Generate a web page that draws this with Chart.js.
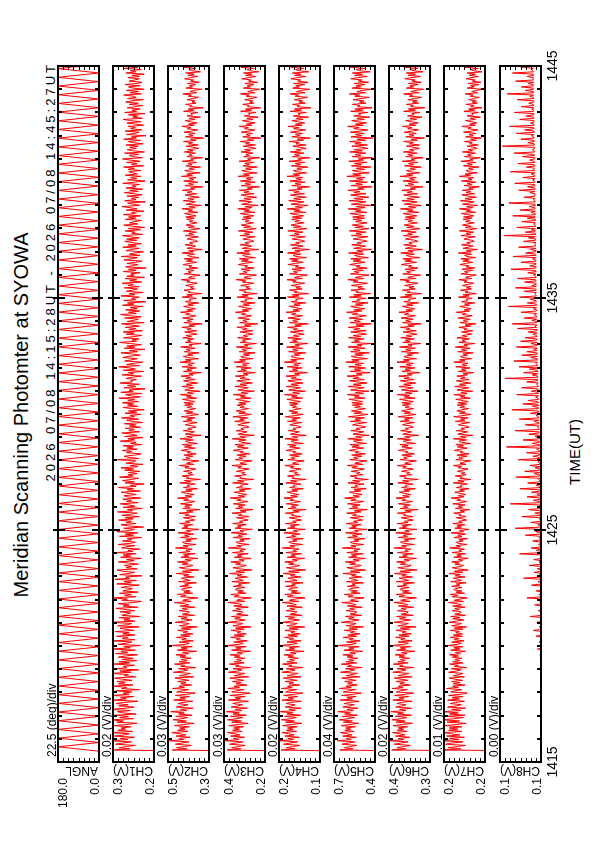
<!DOCTYPE html>
<html lang="en">
  <head>
    <meta charset="UTF-8" />
    <title>Meridian Scanning Photomter at SYOWA</title>
    <script src="https://cdn.jsdelivr.net/npm/chart.js"></script>
    <style>
      html, body { margin: 0; background: #fff; overflow: hidden; }
      /* the plot is laid out in landscape, then turned to stand on the portrait page */
      #page {
        position: absolute; left: 0; top: 0;
        width: 842px; height: 595px;
        transform-origin: 0 0;
        transform: translate(0, 842px) rotate(-90deg);
        font-family: "Liberation Sans", Arial, sans-serif;
        color: #000;
      }
      #page canvas { position: absolute; left: 0; }
      .txt { position: absolute; white-space: nowrap; }
      #title { left: 427px; top: 11px; font-size: 20px; line-height: 20px; transform: translateX(-50%); }
      #period { right: 62px; top: 44px; font-size: 13px; line-height: 14px; letter-spacing: 3px; }
      #xtitle { left: 390px; top: 567px; font-size: 15px; line-height: 16px; transform: translateX(-50%); }
    </style>
  </head>
  <body>
    <div id="page">
      <div class="txt" id="title">Meridian Scanning Photomter at SYOWA</div>
      <div class="txt" id="period">2026 07/08 14:15:28UT - 2026 07/08 14:45:27UT</div>
      <div class="txt" id="xtitle">TIME(UT)</div>
    </div>

    <script>
      // time in minutes after 14:15
      const sampleStart = 28 / 60; // 14:15:28
      const sampleEnd = 30 + 27 / 60; // 14:45:27
      const timeTicks = [1415, 1425, 1435, 1445];

      const channelNames = ["ANGL", "CH1(V)", "CH2(V)", "CH3(V)", "CH4(V)", "CH5(V)", "CH6(V)", "CH7(V)", "CH8(V)"];
      const axisMax = [180, 0.33, 0.54, 0.44, 0.24, 0.72, 0.44, 0.24, 0.1315];
      const axisMin = [0, 0.2, 0.3, 0.2, 0.1, 0.4, 0.3, 0.16, 0.1015];

      // scan angle (deg), turning points of the meridian scan
      const angle = [
        0,180,0,180,0,180,0,180,0,180,0,180,0,180,0,180,0,180,0,180,
        0,180,0,180,0,180,0,180,0,180,0,180,0,180,0,180,0,180,0,180,
        0,180,0,180,0,180,0,180,0,180,0,180,0,180,0,180,0,180,0,180,
        0,180,0,180,0,180,0,180,0,180,0,180,0,180,0,180,0,180,0,180,
        0,180,0,180,0,180,0,180,0,180,0,180,0,180,0,180,0,180,0,180,
        0,180,0,180,0,180,0,180,0,180,0,180,0,180,0,180,0,180,0,180,
        0,180,0,180,0,180,0,180,0,180,0,180,0,180,0,180,0,180,0,180,
        0,180,0,180,0,180,0,180,0,180,0,180,0,180,0,180,0,180,0,180,
        0,
      ];

      // photometer channels, mV, one row per minute
      const ch1 = [
        0,334,276,311,288,259,322,300,271,345,283,307,262,326,294,279,338,268,315,290,
        305,273,329,286,254,318,297,340,265,309,281,324,257,299,316,275,343,289,263,312,
        282,320,296,251,327,288,306,264,336,279,298,271,321,246,303,287,331,267,313,292,
        317,270,300,325,258,294,281,339,273,308,249,319,286,297,262,328,277,311,255,302,
        266,313,291,252,322,284,305,259,333,275,296,243,314,289,270,328,261,300,283,319,
        260,299,278,324,263,290,308,248,315,280,271,337,261,295,276,311,244,302,288,274,
        307,261,289,321,252,298,279,313,266,240,302,285,331,257,293,272,310,250,299,281,
        268,305,284,247,318,272,295,256,324,277,290,238,309,283,261,300,317,253,289,271,
        294,250,281,313,263,287,240,306,274,298,257,321,267,283,245,303,288,260,314,275,
        259,300,271,285,239,309,265,291,251,318,278,262,296,233,282,305,257,288,272,312,
        266,291,246,302,274,254,315,268,284,237,298,260,279,307,250,287,271,299,242,285,
        295,256,277,304,243,285,265,313,257,275,231,292,262,300,272,249,309,267,283,254,
        281,245,293,264,305,252,276,236,289,267,258,316,248,279,295,260,241,287,270,301,
        253,286,266,298,239,274,257,307,261,283,235,293,254,272,302,246,280,263,291,243,
        278,258,294,236,269,287,249,303,262,276,241,292,255,281,231,271,298,252,284,264,
        300,249,283,261,311,243,272,290,238,305,266,279,228,295,257,284,247,308,269,274,
        256,289,270,240,301,265,281,233,297,259,276,312,246,287,262,236,293,271,253,299,
        283,244,268,305,252,279,229,294,261,286,240,274,309,255,270,248,297,264,239,288,
        262,298,237,280,258,291,247,272,303,231,285,266,250,293,241,277,306,256,281,245,
        290,254,275,236,300,263,284,226,296,258,271,247,305,261,279,234,288,268,252,294,
        248,283,266,301,239,277,255,292,230,286,263,274,244,298,257,281,225,290,269,251,
        286,259,238,295,270,253,304,245,278,262,233,289,274,248,299,256,283,240,272,293,
        255,287,247,276,300,236,271,260,292,243,282,229,266,296,251,278,262,239,290,258,
        281,242,297,259,271,232,288,254,276,302,245,265,284,227,293,257,272,249,286,238,
        263,294,250,277,236,289,258,270,246,299,261,228,284,255,275,242,291,253,269,280,
        241,282,262,296,233,271,254,287,244,275,300,237,266,279,249,293,230,268,285,256,
        277,250,289,235,265,282,243,296,256,272,226,287,261,248,291,239,274,259,283,233,
        259,286,241,274,298,237,268,252,281,228,293,255,270,244,285,262,236,278,250,290,
        272,234,284,257,265,296,240,276,249,288,231,267,281,245,292,253,238,279,261,247,
        283,246,270,231,289,258,275,240,294,252,266,225,280,260,243,287,255,271,236,268,
      ];
      const ch2 = [
        0,515,428,490,443,404,497,461,418,531,449,476,411,493,436,469,518,423,484,440,
        472,415,502,449,387,486,433,510,458,425,495,400,478,445,524,431,467,393,491,454,
        423,482,452,395,506,438,471,414,497,430,381,489,456,419,513,444,476,402,465,434,
        484,417,459,500,390,473,436,409,508,449,425,479,377,466,442,501,413,474,428,462,
        406,470,435,493,420,455,373,486,427,464,398,517,439,415,475,392,459,432,490,411,
        466,394,451,425,484,407,461,368,473,433,416,498,443,400,463,428,480,385,455,422,
        413,475,427,458,383,469,418,444,503,405,454,424,366,466,436,485,396,448,410,461,
        452,401,471,420,443,374,479,412,436,461,388,448,417,492,403,455,359,440,473,415,
        394,458,425,484,407,440,365,465,418,449,382,477,411,435,398,496,422,452,376,444,
        455,405,436,371,469,416,443,390,481,409,433,358,460,423,448,395,472,412,437,384,
        408,451,379,440,417,475,393,432,354,454,411,442,399,467,415,383,448,421,484,402,
        440,387,431,462,399,436,368,450,413,428,382,471,406,444,350,433,418,458,392,421,
        399,449,410,377,441,417,474,389,432,404,360,455,412,436,394,447,375,429,408,464,
        428,381,444,403,455,367,422,437,392,470,398,431,347,440,409,386,451,402,424,376,
        389,439,412,370,452,399,430,382,461,407,361,434,395,445,413,378,429,402,442,393,
        446,384,421,455,372,431,404,468,391,426,353,442,415,388,459,397,433,366,420,449,
        380,437,408,464,393,418,345,450,401,429,374,457,398,423,386,470,406,439,362,427,
        451,395,425,359,444,410,432,381,466,399,417,347,438,407,426,389,453,402,435,370,
        398,443,372,429,405,459,384,418,341,447,403,428,392,455,410,376,436,414,468,395,
        430,379,420,449,391,424,360,438,406,415,374,458,397,431,343,421,411,446,385,409,
        391,437,403,369,430,412,462,381,420,396,352,444,405,424,388,435,366,417,400,452,
        418,373,433,396,445,359,411,426,385,458,391,419,339,429,403,378,440,395,413,367,
        380,428,405,362,440,391,418,374,450,399,354,422,387,434,406,370,417,395,431,386,
        437,376,411,443,365,423,396,458,383,417,345,433,406,380,450,388,424,357,412,440,
        372,428,399,455,384,409,337,441,392,420,365,448,389,414,377,461,397,430,353,418,
        442,386,416,350,435,401,423,372,457,390,408,338,429,398,417,380,444,393,426,361,
        389,434,363,420,396,450,375,409,332,438,394,419,383,446,401,367,427,405,459,386,
        421,370,411,440,382,415,351,429,397,406,365,449,388,422,334,412,402,437,376,400,
        382,428,394,360,421,403,453,372,411,387,343,435,396,415,379,426,357,408,391,443,
        409,364,424,387,436,350,402,417,376,449,382,410,330,420,394,369,431,386,404,358,
      ];
      const ch3 = [
        0,422,341,395,358,316,407,372,329,433,354,386,320,401,347,380,419,334,390,350,
        383,325,412,357,300,395,338,420,364,330,403,309,387,351,426,336,374,303,398,359,
        332,389,360,296,414,343,376,317,405,335,287,394,366,324,417,349,381,305,370,339,
        391,324,363,406,296,380,347,318,415,360,334,386,285,372,353,409,322,381,338,367,
        318,379,347,404,332,363,285,396,340,372,310,428,353,327,383,303,367,344,401,322,
        380,310,363,341,399,322,372,283,388,349,330,415,359,315,377,344,396,299,367,336,
        329,390,343,371,298,383,334,355,417,319,366,340,281,380,353,400,310,360,326,375,
        366,317,385,337,356,290,394,327,349,375,303,362,334,407,319,370,277,352,388,330,
        310,372,343,400,323,352,281,379,335,362,299,391,327,347,315,414,340,365,293,356,
        369,322,348,287,386,333,357,306,398,326,346,274,376,340,362,310,389,329,349,300,
        326,367,294,355,337,393,311,346,271,372,330,357,317,386,334,300,365,341,404,319,
        356,305,346,380,318,351,284,367,333,342,299,390,325,361,267,348,339,377,310,335,
        318,367,330,294,358,337,394,306,347,323,276,375,332,352,310,365,289,344,327,387,
        344,299,362,324,375,283,337,354,310,392,316,347,262,358,330,305,370,323,341,294,
        309,359,335,289,377,321,348,301,388,327,280,354,315,369,334,296,346,322,363,311,
        353,290,336,371,283,344,314,386,302,339,263,358,326,298,376,308,347,274,333,365,
        287,345,317,374,300,328,257,362,309,340,282,368,306,331,293,381,315,349,270,337,
        342,290,326,259,351,309,334,278,368,300,321,250,345,312,332,284,360,303,327,271,
        301,347,272,331,306,364,284,320,243,349,305,329,291,358,312,278,337,315,373,296,
        333,279,322,355,291,327,258,343,307,317,272,363,298,335,245,324,313,351,284,310,
        292,342,304,266,333,312,369,280,322,297,250,350,306,327,287,340,264,318,301,358,
        322,271,338,297,350,256,315,331,286,365,292,322,237,333,305,279,345,296,317,266,
        279,330,306,258,346,290,320,271,356,298,251,325,285,339,307,268,317,294,334,282,
        327,266,312,345,259,322,291,359,276,316,240,337,304,278,352,284,323,249,309,340,
        264,322,294,350,275,304,232,339,286,316,259,344,282,308,270,357,291,325,246,312,
        336,279,313,246,329,291,318,265,352,282,302,231,325,292,312,271,340,286,320,254,
        282,328,256,313,289,344,266,303,225,330,287,311,274,339,293,260,320,297,351,277,
        309,259,301,332,271,306,240,321,288,297,254,343,279,314,226,302,293,330,265,290,
        271,319,283,247,311,292,344,259,301,276,232,327,285,305,264,318,243,297,280,336,
        298,252,314,276,326,237,290,306,263,341,270,299,219,310,283,258,322,275,294,248,
      ];
      const ch4 = [
        0,233,185,215,194,169,224,203,177,239,191,210,171,220,188,207,230,180,214,192,
        211,178,228,195,162,218,187,232,200,181,221,166,213,193,236,184,206,165,219,197,
        185,216,201,164,230,191,209,176,224,188,159,218,203,180,232,195,211,170,206,190,
        219,179,202,225,165,212,193,175,230,201,185,215,158,207,196,228,178,213,188,204,
        174,210,191,223,182,201,155,218,187,206,170,237,195,178,213,165,204,190,221,176,
        210,168,199,186,220,174,205,152,213,190,178,227,197,170,208,187,218,161,202,183,
        179,216,187,203,161,213,181,194,228,173,205,185,151,211,192,220,167,199,177,207,
        204,176,217,184,197,158,220,178,191,210,165,201,185,226,172,207,149,193,215,180,
        170,207,190,220,177,194,152,212,184,199,163,217,180,191,172,229,187,203,160,196,
        207,179,194,157,215,183,197,168,223,177,191,150,211,186,201,170,218,181,193,163,
        183,205,165,197,190,218,172,193,148,209,183,198,174,215,187,167,203,191,223,177,
        200,172,193,212,176,196,157,204,186,191,165,217,180,201,147,195,188,211,170,187,
        177,205,185,165,201,189,220,172,194,180,154,210,186,198,171,204,161,192,183,216,
        195,169,204,183,211,157,189,199,174,219,176,194,147,201,186,170,208,182,192,165,
        174,203,189,162,211,180,196,168,218,185,157,198,176,206,188,165,194,181,203,175,
        205,166,191,213,160,197,178,221,170,193,150,207,185,167,215,174,199,158,190,210,
        163,198,181,216,170,187,143,205,176,194,161,212,173,189,166,222,180,200,155,191,
        199,170,188,149,207,175,193,160,214,171,185,142,203,178,194,164,210,173,190,154,
        175,202,157,191,178,211,164,186,140,204,176,193,168,209,181,160,197,183,216,170,
        192,162,185,205,168,189,149,199,178,183,158,211,172,195,139,188,179,204,161,182,
        166,198,175,152,193,181,213,160,187,170,143,204,178,191,163,196,152,184,173,209,
        188,157,197,174,204,146,182,192,165,211,169,186,136,195,178,158,201,172,183,152,
        163,195,179,150,202,171,187,158,210,174,145,191,166,199,181,154,186,171,197,162,
        195,156,183,203,149,188,169,212,160,184,141,199,176,155,207,165,190,147,180,201,
        153,189,172,207,161,178,135,196,167,185,151,203,164,181,158,213,170,191,146,182,
        191,161,179,141,198,167,184,152,206,163,176,134,194,170,187,155,202,166,181,147,
        168,193,148,182,171,205,156,178,133,196,168,184,160,201,175,149,190,172,209,161,
        184,152,177,196,158,181,139,191,168,175,147,202,163,187,131,178,170,194,150,172,
        159,188,167,142,185,173,203,151,180,164,135,194,170,183,152,190,141,176,166,199,
        178,148,187,165,194,138,172,183,155,200,158,177,128,186,169,150,191,163,175,145,
      ];
      const ch5 = [
        0,675,572,639,593,543,657,610,558,693,586,626,546,653,580,621,671,563,636,590,
        629,553,664,595,528,647,577,679,604,560,655,537,637,591,689,569,618,533,651,600,
        561,641,599,524,672,576,620,547,660,570,509,648,603,552,679,585,627,538,613,577,
        636,548,602,660,519,624,579,537,670,593,559,630,502,614,584,663,544,625,567,607,
        534,618,573,651,553,596,497,643,564,605,524,693,580,546,623,517,600,570,648,543,
        612,518,591,559,640,537,601,490,624,570,548,663,581,526,606,563,631,505,595,555,
        542,625,560,597,500,616,549,581,660,528,593,558,485,611,572,639,516,587,538,604,
        589,524,615,553,580,489,624,534,568,602,505,584,547,651,519,593,473,572,620,537,
        507,597,553,632,524,571,475,606,544,584,492,620,535,563,516,655,549,588,487,576,
        594,526,565,479,615,538,576,502,630,531,560,463,602,546,583,508,625,535,567,496,
        533,592,491,574,546,621,509,561,460,600,534,577,517,614,542,489,589,550,637,522,
        571,500,555,599,511,564,469,586,537,554,486,611,520,575,452,559,542,594,496,543,
        518,586,530,484,577,539,615,495,559,519,463,596,534,566,501,582,475,554,527,604,
        555,489,580,524,596,467,541,568,498,612,505,551,445,572,530,486,589,519,548,473,
        502,575,534,466,594,512,556,483,607,525,456,565,504,584,530,475,559,515,576,496,
        581,497,549,603,478,560,523,617,489,553,447,591,536,485,610,507,570,462,545,598,
        483,572,529,619,501,546,437,594,512,561,474,606,508,553,490,628,525,582,459,548,
        586,495,557,446,591,517,569,478,611,503,540,433,584,521,562,486,605,512,571,467,
        511,590,471,566,520,608,485,549,429,596,515,563,497,603,527,468,575,535,622,503,
        565,480,547,590,496,552,454,578,521,539,469,600,506,567,435,548,530,587,481,533,
        499,584,522,459,570,534,612,486,553,509,446,591,526,562,492,577,463,545,517,598,
        548,476,572,511,589,451,534,560,488,606,497,543,427,566,520,474,582,509,541,462,
        489,570,527,455,585,503,548,470,600,515,446,558,492,578,521,463,551,504,571,482,
        575,484,538,596,465,553,511,609,477,545,433,585,525,471,602,493,562,448,532,591,
        470,565,518,611,487,535,424,588,499,550,461,599,495,544,477,620,512,574,445,537,
        578,482,546,433,584,506,560,465,604,490,531,421,577,510,553,472,598,499,563,455,
        498,581,459,557,508,599,472,540,417,588,503,552,485,594,516,456,566,523,613,491,
        554,467,538,582,483,541,441,567,511,528,456,590,494,557,424,536,518,576,470,521,
        486,571,509,444,559,520,600,473,541,497,434,580,512,549,478,564,450,531,503,589,
        535,461,560,498,577,437,520,548,475,594,484,529,414,553,507,460,571,494,527,448,
      ];
      const ch6 = [
        0,431,383,413,392,367,422,401,375,437,389,408,369,418,386,405,428,378,412,390,
        409,376,426,393,360,416,385,430,398,379,419,364,411,391,434,382,404,363,417,395,
        382,413,398,361,427,389,406,373,421,385,356,415,400,377,429,392,408,367,403,387,
        416,376,399,422,362,409,390,372,427,398,382,412,355,404,393,425,375,410,385,401,
        370,406,387,419,378,397,351,414,383,402,366,433,391,374,409,361,400,386,417,372,
        406,364,395,382,416,370,401,348,409,386,374,423,393,366,404,383,414,357,398,379,
        374,411,382,398,356,408,376,389,423,368,400,380,346,406,387,415,362,394,372,402,
        399,371,412,379,392,353,415,373,386,405,360,396,380,421,367,402,344,388,410,375,
        364,401,384,414,371,388,346,406,378,393,357,411,374,385,366,423,381,397,354,390,
        401,373,388,351,409,377,391,362,417,371,385,344,405,380,395,364,412,375,387,357,
        376,398,358,390,383,411,365,386,341,402,376,391,367,408,380,360,396,384,416,370,
        393,365,386,405,369,389,350,397,379,384,358,410,373,394,340,388,381,404,363,380,
        369,397,377,357,393,381,412,364,386,372,346,402,378,390,363,396,353,384,375,408,
        387,361,396,375,403,349,381,391,366,411,368,386,339,393,378,362,400,374,384,357,
        365,394,380,353,402,371,387,359,409,376,348,389,367,397,379,356,385,372,394,366,
        396,357,382,404,351,388,369,412,361,384,341,398,376,358,406,365,390,349,381,401,
        354,389,372,407,361,378,334,396,367,385,352,403,364,380,357,413,371,391,346,382,
        389,360,378,339,397,365,383,350,404,361,375,332,393,368,384,354,400,363,380,344,
        365,392,347,381,368,401,354,376,330,394,366,383,358,399,371,350,387,373,406,360,
        382,352,375,395,358,379,339,389,368,373,348,401,362,385,329,378,369,394,351,372,
        355,387,364,341,382,370,402,349,376,359,332,393,367,380,352,385,341,373,362,398,
        377,346,386,363,393,335,371,381,354,400,358,375,325,384,367,347,390,361,372,341,
        352,384,368,339,391,360,376,347,399,363,334,380,355,388,370,343,375,360,386,351,
        384,345,372,392,338,377,358,401,349,373,330,388,365,344,396,354,379,336,369,390,
        342,378,361,396,350,367,324,385,356,374,340,392,353,369,347,402,359,380,335,371,
        380,350,368,330,387,356,373,341,395,352,365,323,383,359,376,344,391,355,370,336,
        354,381,336,370,357,390,343,365,319,383,355,372,347,388,360,339,376,362,394,349,
        371,340,364,383,346,368,327,377,355,362,335,390,350,374,318,366,357,381,339,360,
        343,376,353,329,371,359,390,338,366,348,322,381,356,369,340,374,330,362,351,386,
        365,333,375,350,381,324,358,369,341,388,345,364,315,371,352,336,378,348,361,331,
      ];
      const ch7 = [
        0,241,207,232,214,198,237,225,203,244,211,229,200,235,209,227,240,205,231,213,
        230,205,238,215,197,234,210,242,219,202,236,199,229,212,243,207,225,198,233,216,
        206,228,217,200,233,210,224,203,231,208,195,227,218,205,235,212,223,199,222,209,
        225,204,219,230,200,222,211,203,231,216,207,226,196,220,212,229,203,223,209,219,
        205,224,212,229,208,218,198,227,209,221,203,233,214,206,225,201,220,211,228,204,
        222,204,217,210,228,203,220,196,225,212,206,230,216,201,223,209,227,198,219,208,
        207,224,210,219,199,223,206,214,231,202,220,209,195,224,213,228,200,217,205,221,
        218,205,225,209,216,197,227,206,212,222,199,218,208,230,203,220,193,214,224,207,
        202,219,210,225,204,212,193,221,206,215,198,224,205,211,200,229,208,217,195,213,
        216,203,211,194,221,205,213,198,226,202,210,191,219,206,215,199,223,204,211,196,
        204,216,197,211,207,221,200,209,190,218,204,212,199,223,206,196,215,208,226,201,
        212,198,209,219,200,210,191,216,205,208,195,222,201,213,188,209,204,218,197,206,
        199,214,204,193,212,206,222,197,209,201,188,217,204,211,195,215,191,208,203,220,
        209,195,214,202,217,188,206,211,196,222,197,208,184,213,204,194,216,200,207,191,
        197,212,205,190,218,199,208,193,221,203,187,210,198,215,205,192,209,200,214,196,
        213,193,205,217,189,208,199,221,195,207,184,215,203,192,219,197,210,188,204,216,
        191,208,199,215,194,203,182,212,197,206,189,217,196,204,193,221,199,210,186,205,
        208,194,203,183,213,196,206,189,218,194,201,180,211,198,205,190,215,195,204,186,
        193,206,184,201,196,211,188,199,178,209,194,202,189,213,197,185,204,198,216,190,
        201,187,198,209,190,200,180,206,194,197,185,212,191,203,177,199,193,208,186,196,
        188,204,193,182,201,195,211,186,198,190,177,207,193,200,184,205,180,197,191,209,
        198,184,203,191,207,178,195,200,186,212,187,197,174,203,193,183,206,189,196,181,
        186,201,194,179,207,188,197,182,210,192,176,199,187,204,194,181,198,189,203,185,
        202,182,194,206,178,197,188,210,184,196,174,204,192,181,208,186,199,177,193,205,
        180,197,188,204,183,192,171,201,186,195,178,206,185,193,182,210,188,199,175,194,
        197,183,192,172,202,185,195,178,207,183,190,169,200,187,194,179,204,184,193,175,
        182,195,173,190,185,200,177,188,167,198,183,191,178,202,186,174,193,187,205,179,
        190,176,187,198,179,189,169,195,183,186,173,201,180,192,166,188,182,197,175,185,
        177,192,182,171,189,183,199,174,186,178,165,195,181,188,172,193,168,185,179,197,
        187,173,191,179,195,166,183,189,173,200,175,186,162,190,181,170,194,177,184,168,
      ];
      const ch8 = [
        0,96.1,96.6,95.8,97.2,96.2,95.9,97.8,96.4,96.0,96.9,96.3,98.7,96.1,96.6,96.2,97.9,96.5,96.1,97.1,
        96.4,97.0,96.3,98.2,96.6,96.2,97.4,96.8,96.4,99.0,96.7,96.3,97.6,96.9,96.5,98.4,96.7,96.4,97.2,96.9,
        97.0,98.8,97.3,96.9,97.7,97.2,99.3,97.4,97.0,98.1,97.5,97.1,99.6,97.3,97.8,97.2,98.5,97.6,97.3,98.9,
        97.8,98.3,99.7,98.0,97.7,98.6,98.1,99.4,98.2,97.9,98.9,98.3,99.8,98.1,98.5,98.0,99.2,98.4,98.2,99.5,
        98.8,99.3,102.4,99.0,98.7,100.6,99.1,99.4,104.1,98.9,99.5,101.3,99.2,98.9,103.0,99.3,99.6,100.8,99.1,105.2,
        99.6,100.1,101.9,99.8,107.3,99.7,100.2,102.8,99.9,100.3,99.6,104.6,100.0,100.4,101.2,99.8,109.5,100.1,100.5,102.2,
        100.2,103.7,100.4,100.0,101.6,100.5,106.1,100.3,100.7,102.5,100.4,100.1,111.8,100.6,100.9,103.2,100.5,100.2,105.0,100.7,
        100.8,101.9,100.5,108.4,100.7,101.0,103.6,100.6,100.9,114.2,100.8,101.1,102.7,100.7,106.5,101.0,100.8,104.2,101.1,100.9,
        110.1,101.0,101.2,103.0,100.8,106.9,101.1,101.3,102.2,101.0,117.2,101.1,101.4,104.8,101.2,108.8,101.0,101.4,103.5,101.3,
        101.2,107.6,101.3,101.6,103.1,101.1,112.9,101.4,101.7,105.4,101.2,101.6,120.3,101.5,101.8,103.9,101.3,109.1,101.6,101.9,
        102.8,101.4,115.5,101.7,102.0,106.0,101.5,101.8,110.6,101.6,102.0,103.4,101.5,123.9,101.8,102.1,107.2,101.7,102.0,111.7,
        101.9,104.2,101.7,108.5,102.0,101.8,116.9,101.9,102.2,104.9,101.8,111.3,102.1,102.4,103.3,102.0,119.8,102.2,102.5,106.3,
        102.1,113.4,102.0,102.3,105.8,102.2,109.7,102.1,102.5,103.6,102.3,118.1,102.2,102.6,107.4,102.4,102.7,112.2,102.3,102.6,
        104.6,102.5,126.8,102.6,102.4,108.1,102.7,102.9,114.6,102.5,102.8,105.9,102.6,110.4,102.8,103.0,120.5,102.7,103.1,104.1,
        102.9,113.0,102.8,103.2,106.7,103.0,117.4,102.9,103.3,105.0,103.1,109.3,103.0,103.4,122.8,103.2,103.5,107.8,103.1,114.9,
        103.3,103.7,111.0,103.2,103.6,105.6,103.4,119.2,103.3,103.8,108.6,103.5,103.9,115.7,103.4,103.7,104.8,103.6,112.0,103.9,
        103.8,127.9,103.7,104.0,107.9,103.9,114.3,103.8,104.2,110.0,103.9,117.6,103.8,104.3,105.5,104.0,121.4,103.9,104.4,109.0,
        104.2,115.6,104.1,104.5,111.9,104.3,106.8,104.2,119.5,104.6,104.4,108.7,104.3,116.5,104.7,104.5,113.2,104.4,104.8,107.4,
        104.4,110.8,104.6,104.3,118.7,104.7,105.9,104.5,122.6,104.8,104.6,108.2,104.7,113.8,104.5,104.9,106.6,104.8,116.1,105.0,
        104.6,107.1,104.8,125.3,104.7,105.0,111.5,104.9,105.1,109.4,104.8,117.3,105.0,105.2,106.0,104.9,114.1,105.1,105.3,120.2,
        105.0,108.3,104.9,105.2,113.6,105.1,105.4,118.8,105.0,105.3,106.9,105.2,111.2,105.1,105.5,123.5,105.3,105.0,109.8,105.4,
        105.2,116.2,105.1,105.4,107.6,105.3,121.9,105.2,105.5,112.8,105.4,105.1,109.1,105.3,117.9,105.6,105.4,106.4,105.2,114.4,
        105.5,105.3,110.7,105.6,128.6,105.4,105.7,113.0,105.5,108.4,105.6,119.3,105.4,105.8,106.8,105.6,115.5,105.7,105.5,111.6,
        105.7,122.2,105.6,105.9,108.9,105.7,116.7,105.8,106.0,110.2,105.6,105.9,125.0,105.8,106.1,107.3,105.7,113.9,105.9,106.2,
        105.9,109.5,106.0,117.8,105.8,106.1,111.4,105.9,106.2,120.7,106.0,106.3,107.7,105.9,114.8,106.1,106.4,108.6,106.0,123.9,
        106.1,107.0,106.2,112.3,106.0,106.4,118.4,106.2,106.5,109.9,106.3,106.0,115.2,106.4,106.6,121.2,106.2,106.5,108.0,106.3,
        106.4,129.8,106.3,106.6,111.1,106.4,106.7,116.3,106.5,106.8,108.5,106.6,119.6,106.4,106.7,113.5,106.5,106.9,124.6,106.6,
        106.6,109.2,106.5,106.8,117.1,106.7,107.0,112.6,106.8,106.6,121.0,106.9,107.1,108.3,106.7,115.9,106.8,107.2,110.5,106.9,
        106.8,118.9,106.7,107.0,109.7,106.9,126.2,106.8,107.1,113.1,106.9,107.3,116.0,107.0,107.2,110.9,106.8,120.1,107.0,107.4,
        107.0,111.8,106.9,107.2,122.4,107.1,107.4,108.8,107.0,115.3,107.2,107.5,119.0,107.1,107.3,112.5,107.2,107.6,125.7,107.3,
      ];

      const series = [angle, ch1, ch2, ch3, ch4, ch5, ch6, ch7, ch8];
      const panelTop = [58, 113, 168, 224, 279, 334, 389, 444, 500];
      const font = "'Liberation Sans', Arial, sans-serif";

      // frame, inward ticks and the text around each panel
      const panelPlugin = {
        id: "panel",
        afterDraw(chart, args, o) {
          const { ctx, chartArea: a } = chart;
          const xs = chart.scales.x;
          const ys = chart.scales.y;
          ctx.save();
          ctx.strokeStyle = "#000";
          ctx.fillStyle = "#000";

          ctx.lineWidth = 2;
          ctx.beginPath();
          for (let m = 1; m < 30; m++) {
            const px = Math.round(xs.getPixelForValue(m));
            const major = m % 10 === 0;
            const inLen = major ? 7 : 4;
            const outLen = major ? 5 : 0;
            ctx.moveTo(px, a.top - outLen);
            ctx.lineTo(px, a.top + inLen);
            ctx.moveTo(px, a.bottom + outLen);
            ctx.lineTo(px, a.bottom - inLen);
          }
          ctx.stroke();

          ctx.lineWidth = 1;
          ctx.beginPath();
          for (let k = 1; k < 8; k++) {
            const py = Math.round(ys.getPixelForValue(ys.min + (k * (ys.max - ys.min)) / 8)) + 0.5;
            ctx.moveTo(a.left, py);
            ctx.lineTo(a.left + 4, py);
            ctx.moveTo(a.right, py);
            ctx.lineTo(a.right - 4, py);
          }
          ctx.stroke();

          ctx.lineWidth = 2;
          ctx.strokeRect(a.left, a.top, a.right - a.left, a.bottom - a.top);

          ctx.font = "12px " + font;
          ctx.textAlign = "right";
          ctx.textBaseline = "top";
          ctx.fillText(ys.max.toFixed(1), a.left - 16, a.top);
          ctx.textBaseline = "alphabetic";
          ctx.fillText(ys.min.toFixed(1), a.left - 16, a.bottom);

          ctx.textAlign = "left";
          ctx.fillText(o.divText, a.left + 5, a.top - 2);

          ctx.save();
          ctx.translate(a.left - 8, a.bottom);
          ctx.rotate(-Math.PI / 2);
          ctx.textBaseline = "middle";
          ctx.fillText(o.title, 1, 0);
          ctx.restore();

          if (o.timeLabels) {
            ctx.font = "14px " + font;
            ctx.textAlign = "center";
            ctx.textBaseline = "top";
            timeTicks.forEach((lab, i) => {
              ctx.fillText(String(lab), xs.getPixelForValue(i * 10), a.bottom + 5);
            });
          }
          ctx.restore();
        },
      };

      const page = document.getElementById("page");
      series.forEach((vals, i) => {
        const last = i === series.length - 1;
        const cv = document.createElement("canvas");
        cv.width = 842;
        cv.height = last ? 95 : 59;
        cv.style.top = panelTop[i] - 14 + "px";
        page.appendChild(cv);

        const scale = i === 0 ? 1 : 1 / 1000;
        const step = (sampleEnd - sampleStart) / (vals.length - 1);
        const perDiv = (axisMax[i] - axisMin[i]) / 8;
        const divText = i === 0 ? perDiv.toFixed(1) + " (deg)/div" : perDiv.toFixed(2) + " (V)/div";

        new Chart(cv, {
          type: "line",
          data: {
            datasets: [
              {
                data: vals.map((v, k) => ({ x: sampleStart + k * step, y: v * scale })),
                borderColor: "#ff0000",
                borderWidth: 1,
                pointRadius: 0,
                tension: 0,
                fill: false,
                clip: 0,
              },
            ],
          },
          options: {
            responsive: false,
            animation: false,
            events: [],
            layout: { padding: { left: 80, right: 66, top: 14, bottom: last ? 40 : 4 } },
            scales: {
              x: { type: "linear", min: 0, max: 30, display: false },
              y: { type: "linear", min: axisMin[i], max: axisMax[i], display: false },
            },
            plugins: {
              legend: { display: false },
              tooltip: { enabled: false },
              panel: { title: channelNames[i], divText: divText, timeLabels: last },
            },
          },
          plugins: [panelPlugin],
        });
      });
    </script>
  </body>
</html>
